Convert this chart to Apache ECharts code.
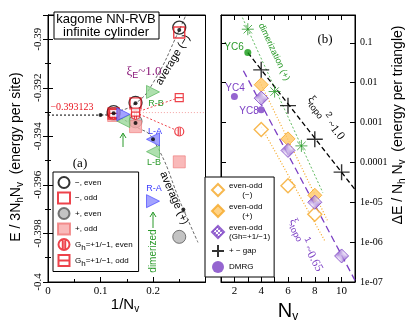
<!DOCTYPE html>
<html>
<head>
<meta charset="utf-8">
<script src="https://cdn.jsdelivr.net/npm/echarts@6/dist/echarts.min.js"></script>
<style>
html,body{margin:0;padding:0;background:#fff;}
#chart{width:415px;height:321px;}
</style>
</head>
<body>
<div id="chart"></div>
<script>
// ---------- panel (a): energy per site vs 1/Nv ----------
var minusEven = [[0.125,-0.39300],[0.1667,-0.39262],[0.25,-0.38952]];
var minusOdd  = [[0.125,-0.39306],[0.1667,-0.39264],[0.25,-0.38972]];
var plusEven  = [[0.125,-0.39308],[0.1667,-0.39338],[0.25,-0.39814]];
var plusOdd   = [[0.125,-0.39314],[0.1667,-0.39360],[0.25,-0.39505]];
var ghEven    = [[0.125,-0.39310],[0.1667,-0.39312],[0.25,-0.39380]];
var ghOdd     = [[0.125,-0.39305],[0.1667,-0.39300],[0.25,-0.39240]];
var triRB = [[0.2,-0.39217]];
var triLA = [[0.2,-0.39412]];
var triLB = [[0.1434,-0.39337],[0.2,-0.39463]];
var triRA = [[0.1434,-0.39309],[0.2,-0.39667]];
var avgDots = [[0.1,-0.393123],[0.125,-0.39305],[0.1667,-0.39264],[0.25,-0.38962],[0.1667,-0.39345],[0.2,-0.39412],[0.2578,-0.39701]];
var avgMinusLine = [[0.1,-0.393123],[0.125,-0.39302],[0.1667,-0.39264],[0.2,-0.39180],[0.25,-0.38962],[0.27,-0.38860]];
var avgPlusLine  = [[0.1,-0.393123],[0.125,-0.39318],[0.1667,-0.39360],[0.2,-0.39412],[0.2578,-0.39701],[0.2857,-0.39837]];
var extrapLine = [[0,-0.393123],[0.1,-0.393123]];
var ghOddLine  = [[0.1667,-0.39302],[0.25,-0.39240]];
var ghEvenLine = [[0.1667,-0.39302],[0.25,-0.39380]];
var ghFlatLine = [[0.175,-0.39302],[0.3,-0.39302]];

// ---------- panel (b): gaps vs Nv ----------
var nvLabels  = [2,4,6,8,10];
var dimerPlus = [[3,0.22],[5,0.006],[7,2.6e-4]];
var pmGap     = [[4,0.021],[6,0.00266],[8,3.8e-4],[10,5.7e-5]];
var eoPlus    = [[4,0.0089],[6,3.9e-4],[8,1.5e-5]];
var eoMinus   = [[4,6.7e-4],[6,2.6e-5],[8,5e-6]];
var eoGh      = [[4,0.0041],[6,2.0e-4],[8,1.0e-5],[10,4.5e-7]];
var dmrgYC6   = [[3,0.057]];
var dmrgYC48  = [[2,0.0045],[4,0.0021]];
var dimerFit  = [[2.6,0.43],[8.6,1.74e-5]];
var gapFit    = [[3,0.057],[11,2.1e-5]];
var topoFit   = [[2.67,0.02],[11,1.1e-7]];
var eoPlusFit = [[3.9,0.0105],[9,3.2e-6]];
var eoMinusFit= [[3.9,9.1e-4],[8.8,1e-6]];

var purple = '#7b3fc4', orange = '#f5a623', green = '#2a9a2a', red = '#e8141e';
var serif = 'Liberation Serif', sans = 'Liberation Sans';

// checkered fill for the Gh diamonds
var pc = document.createElement('canvas');
pc.width = 4; pc.height = 4;
var pctx = pc.getContext('2d');
pctx.fillStyle = '#fff'; pctx.fillRect(0,0,4,4);
pctx.fillStyle = '#8a55cc'; pctx.fillRect(0,0,2,2); pctx.fillRect(2,2,2,2);

var sub = {s:{fontSize:8, verticalAlign:'bottom', padding:[6,0,0,0]}};

var myChart = echarts.init(document.getElementById('chart'));

var tickIn = {inside:true, length:5, lineStyle:{color:'#000'}};
var minorIn = {show:true, splitNumber:2, length:3, lineStyle:{color:'#000'}};

var option = {
  animation:false,
  grid:[
    {left:48, top:15, width:157.5, height:267, show:true, borderColor:'#000', borderWidth:1, outerBoundsMode:'none', containLabel:false},
    {left:221, top:15, width:134, height:267, show:true, borderColor:'#000', borderWidth:1, outerBoundsMode:'none', containLabel:false}
  ],
  xAxis:[
    {type:'value', gridIndex:0, min:0, max:0.3, interval:0.1, axisTick:tickIn, minorTick:minorIn, splitLine:{show:false},
     axisLine:{lineStyle:{color:'#000'}},
     axisLabel:{fontFamily:serif, fontSize:11, color:'#000', margin:4,
       formatter:function(v){ return v>0.25 ? '' : String(+v.toFixed(1)); }}},
    {type:'value', gridIndex:0, position:'top', min:0, max:0.3, interval:0.1, axisTick:tickIn, minorTick:minorIn,
     splitLine:{show:false}, axisLabel:{show:false}, axisLine:{lineStyle:{color:'#000'}}},
    {type:'value', gridIndex:1, min:1, max:11, interval:1, axisTick:{inside:true, length:5}, splitLine:{show:false},
     axisLine:{lineStyle:{color:'#000'}},
     name:'N{s|v}', nameLocation:'middle', nameGap:17, nameMoveOverlap:false,
     nameTextStyle:{fontFamily:sans, fontSize:20, color:'#000', verticalAlign:'top', rich:{s:{fontSize:12, padding:[12,0,0,0]}}},
     axisLabel:{fontFamily:serif, fontSize:11, color:'#000', margin:4, interval:0, customValues:nvLabels,
       formatter:function(v){ return (Math.round(v)%2===0) ? String(Math.round(v)) : ''; }}},
    {type:'value', gridIndex:1, position:'top', min:1, max:11, interval:1, axisTick:{inside:true, length:5},
     splitLine:{show:false}, axisLabel:{show:false}, axisLine:{lineStyle:{color:'#000'}}}
  ],
  yAxis:[
    {type:'value', gridIndex:0, min:-0.4, max:-0.389, interval:0.002, axisTick:tickIn, minorTick:minorIn,
     splitLine:{show:false}, axisLine:{lineStyle:{color:'#000'}},
     axisLabel:{fontFamily:serif, fontSize:11, color:'#000', rotate:90, margin:4,
       formatter:function(v){ return v>-0.3895 ? '' : String(+v.toFixed(3)); }}},
    {type:'value', gridIndex:0, position:'right', min:-0.4, max:-0.389, interval:0.002, axisTick:tickIn, minorTick:minorIn,
     splitLine:{show:false}, axisLabel:{show:false}, axisLine:{lineStyle:{color:'#000'}}},
    {type:'log', gridIndex:1, position:'right', min:1e-7, max:0.5, splitNumber:7, axisTick:{inside:true, length:5},
     splitLine:{show:false}, axisLine:{lineStyle:{color:'#000'}},
     axisLabel:{fontFamily:serif, fontSize:10, color:'#000', margin:5, align:'left',
       formatter:function(v){
         var e = Math.round(Math.log10(v));
         if (Math.abs(Math.log10(v)-e) > 1e-6) return '';
         if (e >= -4) return v.toFixed(-e);
         return '1e-0' + (-e);
       }}},
    {type:'log', gridIndex:1, position:'left', min:1e-7, max:0.5, splitNumber:7, axisTick:{inside:true, length:5},
     splitLine:{show:false}, axisLabel:{show:false}, axisLine:{lineStyle:{color:'#000'}}}
  ],
  legend:[
    {left:53, top:172, orient:'vertical', itemGap:2.5, itemWidth:12, itemHeight:11, padding:[4,6,4,4],
     backgroundColor:'#fff', borderColor:'#000', borderWidth:1, selectedMode:false,
     textStyle:{fontFamily:sans, fontSize:8, color:'#000', rich:sub},
     formatter:function(n){ return n.replace('Gh','G{s|h}'); },
     data:['−, even','−, odd','+, even','+, odd','Gh=+1/−1, even','Gh=+1/−1, odd ']},
    {left:205, top:177, orient:'vertical', itemGap:3, itemWidth:12, itemHeight:12, padding:[4,4,4,6],
     backgroundColor:'#fff', borderColor:'#000', borderWidth:1, selectedMode:false,
     textStyle:{fontFamily:sans, fontSize:8, color:'#000', lineHeight:9, rich:sub},
     formatter:function(n){ return n.replace('Gh','G{s|h}'); },
     data:['even-odd\n      (−)','even-odd\n      (+)','even-odd\n(Gh=+1/−1)','+ − gap','DMRG']}
  ],
  graphic:[
    {type:'rect', shape:{x:54,y:12,width:105,height:27}, style:{fill:'#fff', stroke:'#000', lineWidth:1}, z:10},
    {type:'text', x:106, y:19, z:11, style:{text:'kagome NN-RVB', font:'13px '+sans, fill:'#000', textAlign:'center', textVerticalAlign:'middle'}},
    {type:'text', x:106, y:32, z:11, style:{text:'infinite cylinder', font:'13px '+sans, fill:'#000', textAlign:'center', textVerticalAlign:'middle'}},
    {type:'text', x:80, y:164, style:{text:'(a)', font:'13px '+serif, fill:'#000', textAlign:'center', textVerticalAlign:'middle'}},
    {type:'text', x:325, y:40, style:{text:'(b)', font:'13px '+serif, fill:'#000', textAlign:'center', textVerticalAlign:'middle'}},
    {type:'text', x:72, y:107, style:{text:'−0.393123', font:'10px '+serif, fill:red, textAlign:'center', textVerticalAlign:'middle'}},
    {type:'text', x:144, y:72, style:{text:'ξ{s|E}~1.0', font:'13px '+serif, fill:'#8b1a7a', textAlign:'center', textVerticalAlign:'middle',
      rich:{s:{fontSize:9, fill:'#8b1a7a', padding:[8,0,0,0]}}}},
    {type:'text', x:173, y:60, rotation:1.03, style:{text:'average (−)', font:'11px '+sans, fill:'#000', textAlign:'center', textVerticalAlign:'middle'}},
    {type:'text', x:174, y:198, rotation:-1.16, style:{text:'average (+)', font:'11px '+sans, fill:'#000', textAlign:'center', textVerticalAlign:'middle'}},
    {type:'text', x:156, y:104, style:{text:'R-B', font:'9px '+sans, fill:green, textAlign:'center', textVerticalAlign:'middle'}},
    {type:'text', x:155, y:132, style:{text:'L-A', font:'9px '+sans, fill:'#3a3aff', textAlign:'center', textVerticalAlign:'middle'}},
    {type:'text', x:154, y:163, style:{text:'L-B', font:'9px '+sans, fill:green, textAlign:'center', textVerticalAlign:'middle'}},
    {type:'text', x:154, y:189, style:{text:'R-A', font:'9px '+sans, fill:'#3a3aff', textAlign:'center', textVerticalAlign:'middle'}},
    {type:'text', x:153, y:251, rotation:Math.PI/2, style:{text:'dimerized', font:'10px '+sans, fill:green, textAlign:'center', textVerticalAlign:'middle'}},
    {type:'line', shape:{x1:123,y1:147,x2:123,y2:134}, style:{stroke:green, lineWidth:1}},
    {type:'polyline', shape:{points:[[120,138],[123,133],[126,138]]}, style:{stroke:green, lineWidth:1, fill:null}},
    {type:'line', shape:{x1:153,y1:228,x2:153,y2:213}, style:{stroke:green, lineWidth:1}},
    {type:'polyline', shape:{points:[[150,217],[153,212],[156,217]]}, style:{stroke:green, lineWidth:1, fill:null}},
    {type:'text', x:16, y:157, rotation:Math.PI/2, style:{text:'E / 3N{s|h}N{s|v}  (energy per site)', font:'14px '+sans, fill:'#000',
      textAlign:'center', textVerticalAlign:'middle', rich:{s:{fontSize:10, padding:[9,0,0,0]}}}},
    {type:'text', x:125, y:305, style:{text:'1/N{s|v}', font:'15px '+sans, fill:'#000', textAlign:'center', textVerticalAlign:'middle',
      rich:{s:{fontSize:10, padding:[9,0,0,0]}}}},
    {type:'text', x:398, y:125, rotation:Math.PI/2, style:{text:'ΔE / N{s|h} N{s|v}  (energy per triangle)', font:'14px '+sans, fill:'#000',
      textAlign:'center', textVerticalAlign:'middle', rich:{s:{fontSize:10, padding:[9,0,0,0]}}}},
    {type:'text', x:234, y:47, style:{text:'YC6', font:'10px '+sans, fill:green, textAlign:'center', textVerticalAlign:'middle'}},
    {type:'text', x:235, y:88, style:{text:'YC4', font:'10px '+sans, fill:purple, textAlign:'center', textVerticalAlign:'middle'}},
    {type:'text', x:249, y:111, style:{text:'YC8', font:'10px '+sans, fill:purple, textAlign:'center', textVerticalAlign:'middle'}},
    {type:'text', x:274, y:52, rotation:-1.13, style:{text:'dimerization (+)', font:'9px '+sans, fill:green, textAlign:'center', textVerticalAlign:'middle'}},
    {type:'text', x:326, y:118, rotation:-0.91, style:{text:'ξ{s|topo}{p|2} ~1.0', font:'12px '+serif, fill:'#000', textAlign:'center', textVerticalAlign:'middle',
      rich:{s:{fontSize:9, padding:[8,0,0,0]}, p:{fontSize:9, padding:[0,0,8,0]}}}},
    {type:'text', x:306, y:245, rotation:-1.08, style:{text:'ξ{s|topo}{p|1} ~0.65', font:'12px '+serif, fill:purple, textAlign:'center', textVerticalAlign:'middle',
      rich:{s:{fontSize:9, fill:purple, padding:[8,0,0,0]}, p:{fontSize:9, fill:purple, padding:[0,0,8,0]}}}}
  ],
  series:[
    // panel (a) lines
    {type:'line', xAxisIndex:0, yAxisIndex:0, data:extrapLine, symbol:'none', lineStyle:{color:'#000', width:1, type:[2,2]}, z:1},
    {type:'line', xAxisIndex:0, yAxisIndex:0, data:avgMinusLine, symbol:'none', smooth:true, lineStyle:{color:'#444', width:0.8, type:[3,2]}, z:1},
    {type:'line', xAxisIndex:0, yAxisIndex:0, data:avgPlusLine, symbol:'none', smooth:true, lineStyle:{color:'#444', width:0.8, type:[3,2]}, z:1},
    {type:'line', xAxisIndex:0, yAxisIndex:0, data:ghOddLine, symbol:'none', lineStyle:{color:red, width:0.8, type:[2,2]}, z:1},
    {type:'line', xAxisIndex:0, yAxisIndex:0, data:ghEvenLine, symbol:'none', lineStyle:{color:red, width:0.8, type:[2,2]}, z:1},
    {type:'line', xAxisIndex:0, yAxisIndex:0, data:ghFlatLine, symbol:'none', lineStyle:{color:'#f08a8a', width:0.8, type:[1,2]}, z:1},
    // panel (a) marks
    {name:'+, even', type:'scatter', xAxisIndex:0, yAxisIndex:0, data:plusEven, symbol:'circle', symbolSize:13,
     itemStyle:{color:'#b4b4b4', borderColor:'#555', borderWidth:1}},
    {name:'+, odd', type:'scatter', xAxisIndex:0, yAxisIndex:0, data:plusOdd, symbol:'rect', symbolSize:12,
     itemStyle:{color:'#f7a8a8', borderColor:'#f07878', borderWidth:0.8}},
    {name:'−, even', type:'scatter', xAxisIndex:0, yAxisIndex:0, data:minusEven, symbol:'circle', symbolSize:13,
     itemStyle:{color:'rgba(255,255,255,0)', borderColor:'#000', borderWidth:1.3}},
    {name:'−, odd', type:'scatter', xAxisIndex:0, yAxisIndex:0, data:minusOdd, symbol:'rect', symbolSize:11,
     itemStyle:{color:'rgba(255,255,255,0)', borderColor:red, borderWidth:1.4}},
    {name:'Gh=+1/−1, even', type:'scatter', xAxisIndex:0, yAxisIndex:0, data:ghEven,
     symbol:'path://M10,1A9,9,0,1,1,9.99,1ZM8,1V19M12,1V19', symbolSize:9,
     itemStyle:{color:'#fff', borderColor:red, borderWidth:1.2}},
    {name:'Gh=+1/−1, odd ', type:'scatter', xAxisIndex:0, yAxisIndex:0, data:ghOdd,
     symbol:'path://M0,0H20V20H0ZM0,10H20', symbolSize:8,
     itemStyle:{color:'#fff', borderColor:red, borderWidth:1.2}},
    {type:'scatter', xAxisIndex:0, yAxisIndex:0, data:triRB, symbol:'triangle', symbolRotate:-90, symbolSize:13,
     itemStyle:{color:'#9ad89a', borderColor:'#4caf50', borderWidth:0.8}},
    {type:'scatter', xAxisIndex:0, yAxisIndex:0, data:triLB, symbol:'triangle', symbolRotate:90, symbolSize:13,
     itemStyle:{color:'#9ad89a', borderColor:'#4caf50', borderWidth:0.8}},
    {type:'scatter', xAxisIndex:0, yAxisIndex:0, data:triLA, symbol:'triangle', symbolRotate:90, symbolSize:13,
     itemStyle:{color:'#8c8cff', borderColor:'#3a3aff', borderWidth:0.8}},
    {type:'scatter', xAxisIndex:0, yAxisIndex:0, data:triRA, symbol:'triangle', symbolRotate:-90, symbolSize:13,
     itemStyle:{color:'#8c8cff', borderColor:'#3a3aff', borderWidth:0.8}},
    {type:'scatter', xAxisIndex:0, yAxisIndex:0, data:avgDots, symbol:'circle', symbolSize:4, itemStyle:{color:'#000'}, z:5},
    // panel (b) lines
    {type:'line', xAxisIndex:2, yAxisIndex:2, data:dimerFit, symbol:'none', lineStyle:{color:'#3aaa3a', width:0.8, type:[2,2]}, z:1},
    {type:'line', xAxisIndex:2, yAxisIndex:2, data:gapFit, symbol:'none', lineStyle:{color:'#000', width:1.3, type:[5,3]}, z:1},
    {type:'line', xAxisIndex:2, yAxisIndex:2, data:topoFit, symbol:'none', lineStyle:{color:purple, width:1.3, type:[7,4]}, z:1},
    {type:'line', xAxisIndex:2, yAxisIndex:2, data:eoPlusFit, symbol:'none', lineStyle:{color:orange, width:1.2, type:[1,2]}, z:1},
    {type:'line', xAxisIndex:2, yAxisIndex:2, data:eoMinusFit, symbol:'none', lineStyle:{color:orange, width:1.2, type:[1,2]}, z:1},
    // panel (b) marks
    {name:'dimer', type:'scatter', xAxisIndex:2, yAxisIndex:2, data:dimerPlus,
     symbol:'path://M10,0V20M0,10H20M3,3L17,17M17,3L3,17', symbolSize:12,
     itemStyle:{color:'rgba(0,0,0,0)', borderColor:green, borderWidth:1}},
    {name:'even-odd\n      (−)', type:'scatter', xAxisIndex:2, yAxisIndex:2, data:eoMinus, symbol:'diamond', symbolSize:14,
     itemStyle:{color:'#fff', borderColor:orange, borderWidth:1.4}},
    {name:'even-odd\n      (+)', type:'scatter', xAxisIndex:2, yAxisIndex:2, data:eoPlus, symbol:'diamond', symbolSize:14,
     itemStyle:{color:'#ffc766', borderColor:orange, borderWidth:1}},
    {name:'even-odd\n(Gh=+1/−1)', type:'scatter', xAxisIndex:2, yAxisIndex:2, data:eoGh, symbol:'diamond', symbolSize:14,
     itemStyle:{color:{image:pc, repeat:'repeat'}, borderColor:purple, borderWidth:1}},
    {name:'+ − gap', type:'scatter', xAxisIndex:2, yAxisIndex:2, data:pmGap,
     symbol:'path://M10,0V20M0,10H20', symbolSize:16,
     itemStyle:{color:'rgba(0,0,0,0)', borderColor:'#000', borderWidth:1.4}},
    {name:'DMRG', type:'scatter', xAxisIndex:2, yAxisIndex:2, data:dmrgYC48, symbol:'circle', symbolSize:7, itemStyle:{color:purple}},
    {name:'YC6', type:'scatter', xAxisIndex:2, yAxisIndex:2, data:dmrgYC6, symbol:'circle', symbolSize:7, itemStyle:{color:'#139a13'}}
  ]
};
myChart.setOption(option);
</script>
</body>
</html>
